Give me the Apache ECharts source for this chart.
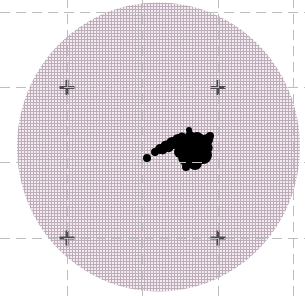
<!DOCTYPE html>
<html>
<head>
<meta charset="utf-8">
<script src="https://cdn.jsdelivr.net/npm/echarts@6/dist/echarts.min.js"></script>
<style>
html, body { margin: 0; padding: 0; background: #fff; }
#chart { width: 305px; height: 296px; }
</style>
</head>
<body>
<div id="chart"></div>
<script>
// field of view (centre + radii in px)
var fieldCenter = [1.212, 1.208];
var fieldRadius = [141.5, 144.5];

// grid line positions
var gridX = [0, 1, 2, 3];
var gridY = [0, 1, 2, 3];

// reticle crosses
var crossPts = [[0, 2], [2, 2], [0, 0], [2, 0]];

// object blobs: [x, y, size]
var blobPts = [
  [1.669, 1.169, 30], [1.748, 1.235, 22], [1.603, 1.076, 20], [1.801, 1.102, 18],
  [1.576, 1.235, 16], [1.695, 0.996, 14], [1.576, 0.943, 8], [1.854, 1.301, 12],
  [1.894, 1.355, 8], [1.616, 1.434, 6], [1.629, 1.355, 10], [1.497, 1.142, 12],
  [1.722, 1.315, 14], [1.470, 1.301, 12], [1.391, 1.262, 12], [1.311, 1.222, 11],
  [1.232, 1.182, 10], [1.166, 1.142, 8], [1.523, 1.341, 9], [1.060, 1.062, 8],
  [1.430, 1.250, 10], [1.350, 1.200, 9], [1.270, 1.170, 9], [1.850, 1.200, 12]
];

// fine mesh texture
var tile = document.createElement('canvas');
tile.width = 3; tile.height = 3;
var ctx = tile.getContext('2d');
ctx.fillStyle = '#f6ebf2';
ctx.fillRect(0, 0, 3, 3);
ctx.fillStyle = '#bcaeb8';
ctx.fillRect(0, 0, 1, 3);
ctx.fillRect(0, 0, 3, 1);

var chart = echarts.init(document.getElementById('chart'));
var lines = gridX.map(function (v) { return { xAxis: v }; })
  .concat(gridY.map(function (v) { return { yAxis: v }; }));

chart.setOption({
  animation: false,
  grid: { left: 0, right: 0, top: 0, bottom: 0 },
  xAxis: { type: 'value', min: -0.887, max: 3.152, show: false },
  yAxis: { type: 'value', min: -0.770, max: 3.161, show: false },
  series: [
    {
      type: 'custom',
      z: 1,
      silent: true,
      data: [fieldCenter.concat(fieldRadius)],
      renderItem: function (params, api) {
        var c = api.coord([api.value(0), api.value(1)]);
        return {
          type: 'ellipse',
          shape: { cx: c[0], cy: c[1], rx: api.value(2), ry: api.value(3) },
          style: { fill: { image: tile, repeat: 'repeat' } }
        };
      }
    },
    {
      type: 'scatter',
      z: 3,
      silent: true,
      itemStyle: { color: '#000', opacity: 1 },
      symbolSize: function (d) { return d[2]; },
      data: blobPts
    },
    {
      type: 'scatter',
      z: 2,
      silent: true,
      symbol: 'path://M4,0H6V4H10V6H6V10H4V6H0V4H4Z',
      symbolSize: 15,
      itemStyle: { color: '#4f4a4f', opacity: 1 },
      data: crossPts,
      markLine: {
        silent: true,
        symbol: 'none',
        label: { show: false },
        lineStyle: { color: '#bdbdbd', width: 1, type: [10, 6] },
        data: lines
      }
    }
  ]
});
</script>
</body>
</html>
